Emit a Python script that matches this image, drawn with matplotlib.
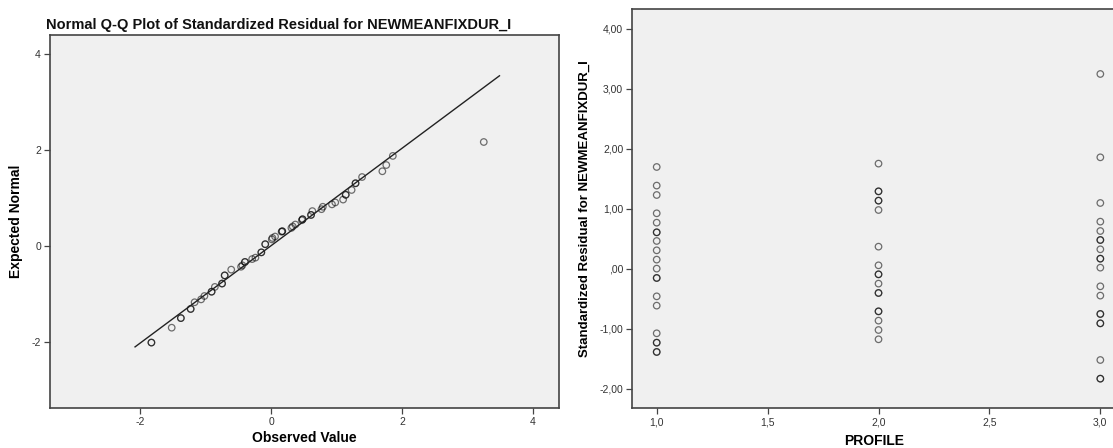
import matplotlib
matplotlib.use('Agg')
import matplotlib.pyplot as plt
import numpy as np

plt.rcParams['font.family'] = ['Liberation Sans', 'DejaVu Sans']
plt.rcParams['axes.unicode_minus'] = False

# Q-Q plot: observed standardized residuals vs expected normal
qq_observed = [-1.83, -1.83, -1.52, -1.38, -1.38, -1.23, -1.23, -1.17, -1.07, -1.02,
               -0.91, -0.91, -0.86, -0.75, -0.75, -0.71, -0.71, -0.61, -0.46, -0.44,
               -0.40, -0.40, -0.29, -0.24, -0.15, -0.15, -0.09, -0.09, 0.01, 0.02,
               0.06, 0.16, 0.17, 0.17, 0.31, 0.33, 0.37, 0.47, 0.48, 0.48,
               0.61, 0.61, 0.63, 0.77, 0.79, 0.93, 0.98, 1.10, 1.14, 1.14,
               1.23, 1.29, 1.29, 1.39, 1.70, 1.76, 1.86, 3.25]
qq_expected = [-2.01, -2.01, -1.70, -1.50, -1.50, -1.31, -1.31, -1.17, -1.11, -1.04,
               -0.95, -0.95, -0.85, -0.78, -0.78, -0.61, -0.61, -0.49, -0.43, -0.40,
               -0.33, -0.33, -0.27, -0.24, -0.13, -0.13, 0.04, 0.04, 0.14, 0.17,
               0.20, 0.30, 0.31, 0.31, 0.38, 0.41, 0.45, 0.54, 0.56, 0.56,
               0.65, 0.65, 0.73, 0.77, 0.82, 0.87, 0.91, 0.97, 1.07, 1.07,
               1.17, 1.31, 1.31, 1.44, 1.56, 1.69, 1.88, 2.17]
qq_line_x = [-2.08, 3.49]
qq_line_y = [-2.10, 3.55]
qq_ticks = [-2, 0, 2, 4]

# residuals by profile
profile1 = [1.70, 1.39, 1.233, 0.928, 0.772, 0.611, 0.611, 0.467, 0.311, 0.156,
            0.006, -0.15, -0.15, -0.456, -0.611, -1.072, -1.228, -1.228, -1.383, -1.383]
profile2 = [1.756, 1.294, 1.294, 1.139, 1.139, 0.983, 0.372, 0.061, -0.089, -0.089,
            -0.244, -0.40, -0.40, -0.706, -0.706, -0.861, -1.017, -1.172]
profile3 = [3.25, 1.861, 1.10, 0.789, 0.633, 0.483, 0.483, 0.328, 0.172, 0.172,
            0.022, -0.289, -0.444, -0.75, -0.75, -0.906, -0.906, -1.517, -1.828, -1.828]
profiles = [1.0, 2.0, 3.0]
res_xticks = [1.0, 1.5, 2.0, 2.5, 3.0]
res_yticks = [-2, -1, 0, 1, 2, 3, 4]

BG = '#f0f0f0'
SPINE = '#444444'
TXT = '#333333'
MK = dict(s=22, facecolors='none', edgecolors=(0, 0, 0, 0.55), linewidths=0.9)


def style(ax):
    ax.set_facecolor(BG)
    for sp in ax.spines.values():
        sp.set_color(SPINE)
        sp.set_linewidth(1.2)
    ax.tick_params(direction='out', length=4.5, width=0.9, color=SPINE,
                   labelsize=7.5, labelcolor=TXT, pad=2)


fig = plt.figure(figsize=(11.13, 4.48), dpi=100)

# --- left: Q-Q plot ---
ax1 = fig.add_axes([50 / 1113, 39.7 / 448, 509 / 1113, 373.3 / 448])
style(ax1)
ax1.plot(qq_line_x, qq_line_y, color='#222222', lw=1.0)
ax1.scatter(qq_observed, qq_expected, **MK)
ax1.set_xlim(-3.38, 4.40)
ax1.set_ylim(-3.38, 4.40)
ax1.set_xticks(qq_ticks)
ax1.set_yticks(qq_ticks)
ax1.set_xlabel('Observed Value', fontsize=10, fontweight='bold')
ax1.set_ylabel('Expected Normal', fontsize=10, fontweight='bold', va='center')
ax1.xaxis.set_label_coords(0.5, -0.062)
ax1.yaxis.set_label_coords(-0.066, 0.5)
fig.text(46 / 1113, 1 - 25 / 448, 'Normal Q-Q Plot of Standardized Residual for NEWMEANFIXDUR_I',
         fontsize=10.5, fontweight='bold', va='center', ha='left', color='#111111')

# --- right: residuals by profile ---
ax2 = fig.add_axes([632.3 / 1113, 39.7 / 448, 484 / 1113, 399 / 448])
style(ax2)
for p, vals in zip(profiles, [profile1, profile2, profile3]):
    ax2.scatter([p] * len(vals), vals, **MK)
ax2.set_xlim(0.89, 3.072)
ax2.set_ylim(-2.322, 4.328)
ax2.set_xticks(res_xticks)
ax2.set_xticklabels([f'{v:.1f}'.replace('.', ',') for v in res_xticks])
ax2.set_yticks(res_yticks)
ax2.set_yticklabels([(f'{v:.2f}'.replace('.', ',') if v != 0 else ',00') for v in res_yticks])
ax2.set_xlabel('PROFILE', fontsize=10, fontweight='bold')
ax2.xaxis.set_label_coords(0.5, -0.064)
ax2.set_ylabel('Standardized Residual for NEWMEANFIXDUR_I', fontsize=9.5,
               fontweight='bold', va='center')
ax2.yaxis.set_label_coords(-0.098, 0.5)

fig.savefig('out.png', dpi=100, facecolor='white')
